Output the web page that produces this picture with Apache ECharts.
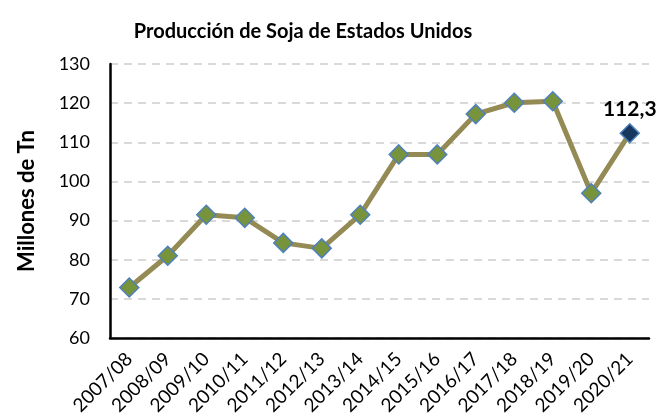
<!DOCTYPE html>
<html>
<head>
<meta charset="utf-8">
<script src="https://cdn.jsdelivr.net/npm/echarts@6/dist/echarts.min.js"></script>
<style>
  html, body { margin: 0; padding: 0; background: #fff; }
  #chart { width: 663px; height: 420px; }
</style>
</head>
<body>
<div id="chart"></div>
<script>
// datos
const campanias = ['2007/08', '2008/09', '2009/10', '2010/11', '2011/12', '2012/13', '2013/14',
  '2014/15', '2015/16', '2016/17', '2017/18', '2018/19', '2019/20', '2020/21']
const produccion = [72.9, 81.0, 91.5, 90.7, 84.3, 82.9, 91.5, 106.9, 106.9, 117.2, 120.1, 120.5, 97.0, 112.3]
const ejeY = [60, 70, 80, 90, 100, 110, 120, 130]

const fuente = 'Lato, "Open Sans", sans-serif'
const chart = echarts.init(document.getElementById('chart'))

const option = {
  animation: false,
  title: {
    text: 'Producción de Soja de Estados Unidos',
    left: 298,
    top: 17,
    textAlign: 'center',
    textStyle: { fontFamily: fuente, fontSize: 20, fontWeight: 'bold', color: '#000' }
  },
  grid: { left: 110, right: 14, top: 64, bottom: 82 },
  xAxis: {
    type: 'category',
    data: campanias,
    boundaryGap: true,
    axisLine: { lineStyle: { color: '#000', width: 2.5 } },
    axisTick: { show: false },
    axisLabel: {
      rotate: 45,
      color: '#000',
      fontFamily: fuente,
      fontSize: 19,
      margin: 18,
      interval: 0
    }
  },
  yAxis: {
    type: 'value',
    min: ejeY[0],
    max: ejeY[ejeY.length - 1],
    interval: 10,
    name: 'Millones de Tn',
    nameLocation: 'middle',
    nameGap: 72,
    nameTextStyle: { fontFamily: fuente, fontSize: 22, fontWeight: 'bold', color: '#000' },
    axisLine: { show: true, lineStyle: { color: '#000', width: 2.5 } },
    axisTick: { show: false },
    axisLabel: { color: '#000', fontFamily: fuente, fontSize: 18, margin: 20 },
    splitLine: { lineStyle: { color: '#d9d9d9', type: [8, 6], width: 2 } }
  },
  series: [{
    type: 'line',
    data: produccion.map((v, i) => {
      if (i === produccion.length - 1) {
        return {
          value: v,
          itemStyle: { color: '#17375e' },
          label: {
            show: true,
            position: 'top',
            distance: 3,
            formatter: p => String(p.value).replace('.', ','),
            fontFamily: fuente,
            fontSize: 21,
            fontWeight: 'bold',
            color: '#000'
          }
        }
      }
      return v
    }),
    symbol: 'diamond',
    symbolSize: 19,
    lineStyle: { color: '#948a54', width: 5 },
    itemStyle: { color: '#77933c', borderColor: '#4f81bd', borderWidth: 1.5 }
  }]
}
chart.setOption(option)
</script>
</body>
</html>
